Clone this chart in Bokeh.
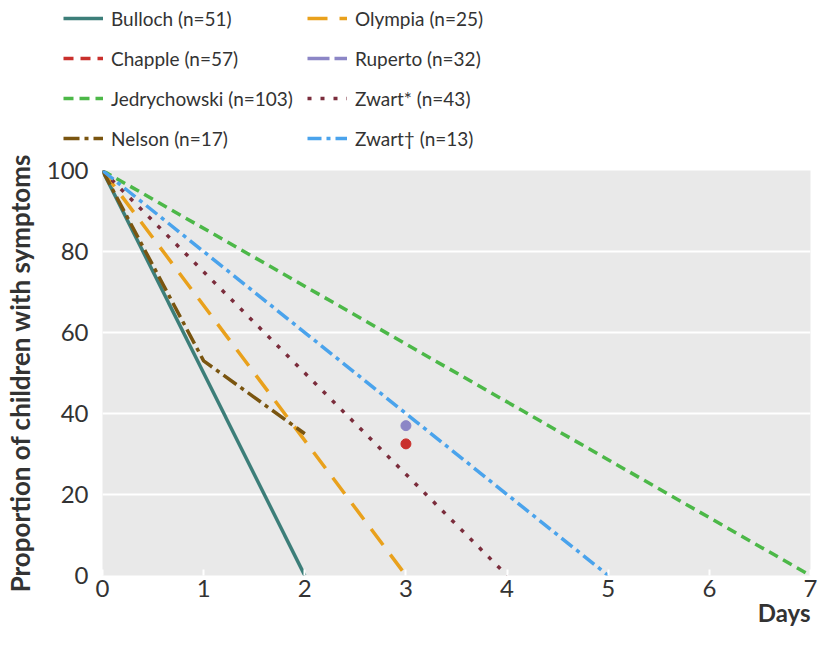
from bokeh.plotting import figure
from bokeh.layouts import column
from bokeh.models import Range1d, FixedTicker, Legend, LegendItem, Title
from bokeh.embed import file_html
from bokeh.resources import INLINE

# ---- data ----
bulloch_days = [0, 2]
bulloch_pct = [100, 0]
olympia_days = [0, 3]
olympia_pct = [100, 0]
jedry_days = [0, 7]
jedry_pct = [100, 0]
zwart_star_days = [0, 4]
zwart_star_pct = [100, 0]
nelson_days = [0, 1, 2]
nelson_pct = [100, 53, 35]
zwart_dag_days = [0, 5]
zwart_dag_pct = [100, 0]
chapple_days = [3]
chapple_pct = [32.5]
ruperto_days = [3]
ruperto_pct = [37]

labels = ["Bulloch (n=51)", "Chapple (n=57)", "Jedrychowski (n=103)", "Nelson (n=17)",
          "Olympia (n=25)", "Ruperto (n=32)", "Zwart* (n=43)", "Zwart\u2020 (n=13)"]
x_ticks = [0, 1, 2, 3, 4, 5, 6, 7]
y_ticks = [0, 20, 40, 60, 80, 100]

FONT = "Lato"
TXT = "#333333"
W = 3.5

styles = {
    "bul": dict(line_color="#3c7e79", line_width=W),
    "cha": dict(line_color="#c9302c", line_width=W, line_dash="10 7"),
    "jed": dict(line_color="#4cb848", line_width=W, line_dash="10 6"),
    "nel": dict(line_color="#7a5510", line_width=W, line_dash="16 5 4 5"),
    "oly": dict(line_color="#e9a11c", line_width=W, line_dash="20 12"),
    "rup": dict(line_color="#8c86c6", line_width=W, line_dash="22 5"),
    "zs": dict(line_color="#7b2d3c", line_width=W, line_dash="4 9"),
    "zd": dict(line_color="#4aa3ec", line_width=W, line_dash="14 5 4 5"),
}
series = {
    "bul": (bulloch_days, bulloch_pct),
    "cha": (chapple_days, chapple_pct),
    "jed": (jedry_days, jedry_pct),
    "nel": (nelson_days, nelson_pct),
    "oly": (olympia_days, olympia_pct),
    "rup": (ruperto_days, ruperto_pct),
    "zs": (zwart_star_days, zwart_star_pct),
    "zd": (zwart_dag_days, zwart_dag_pct),
}
order = ["bul", "cha", "jed", "nel", "oly", "rup", "zs", "zd"]

# ---------------- main chart ----------------
p = figure(width=822, height=505, output_backend="svg", toolbar_location=None,
           x_range=Range1d(0, 7), y_range=Range1d(0, 100),
           min_border_left=101, min_border_right=12, min_border_top=18, min_border_bottom=82)
p.frame_align = False
p.background_fill_color = "#e9e9e9"
p.border_fill_color = "white"
p.outline_line_color = None

p.xgrid.grid_line_color = None
p.ygrid.ticker = FixedTicker(ticks=y_ticks)
p.ygrid.grid_line_color = "white"
p.ygrid.grid_line_width = 2

p.xaxis.ticker = FixedTicker(ticks=x_ticks)
p.yaxis.ticker = FixedTicker(ticks=y_ticks)
for ax in (p.xaxis, p.yaxis):
    ax.axis_line_color = None
    ax.minor_tick_line_color = None
    ax.major_label_text_font = FONT
    ax.major_label_text_font_size = "24px"
    ax.major_label_text_color = TXT
p.xaxis.major_tick_line_color = "white"
p.xaxis.major_tick_line_width = 2
p.xaxis.major_tick_in = 6
p.xaxis.major_tick_out = 0
p.xaxis.major_label_standoff = 4
p.yaxis.major_tick_line_color = None
p.yaxis.major_label_standoff = 8
p.yaxis.axis_label = "Proportion of children with symptoms"
p.yaxis.axis_label_standoff = 8
p.yaxis.axis_label_text_font = FONT
p.yaxis.axis_label_text_font_size = "26px"
p.yaxis.axis_label_text_font_style = "bold"
p.yaxis.axis_label_text_color = TXT

days_title = Title(text="Days", align="right", text_font=FONT, text_font_size="24px",
                   text_font_style="bold", text_color=TXT, standoff=-8)
p.add_layout(days_title, "below")

for k in ["bul", "oly", "jed", "zs", "nel", "zd"]:
    xs, ys = series[k]
    p.line(xs, ys, **styles[k])
p.scatter(chapple_days, chapple_pct, size=10, color=styles["cha"]["line_color"])
p.scatter(ruperto_days, ruperto_pct, size=10, color=styles["rup"]["line_color"])

# ---------------- legend strip (key only; its own ranges keep the lines out of view) ----------------
lg = figure(width=822, height=152, output_backend="svg", toolbar_location=None,
            x_range=Range1d(-20, -10), y_range=Range1d(-20, -10),
            min_border=0, min_border_left=0, min_border_right=0,
            min_border_top=0, min_border_bottom=0, outline_line_color=None)
lg.frame_align = False
lg.axis.visible = False
lg.grid.visible = False
lg.background_fill_color = "white"
items = []
for k, lab in zip(order, labels):
    xs, ys = series[k]
    r = lg.line(xs, ys, **styles[k])
    items.append(LegendItem(label=lab, renderers=[r]))
legend = Legend(items=items, location=(63, 1), nrows=4,
                label_text_font=FONT, label_text_font_size="19px", label_text_color=TXT,
                glyph_width=40, glyph_height=26, label_height=26, label_standoff=8,
                spacing=14, padding=0, margin=0, border_line_color=None,
                background_fill_alpha=0)
lg.add_layout(legend, "center")

layout = column(lg, p, spacing=0)
open("out.html", "w").write(file_html(layout, INLINE))
